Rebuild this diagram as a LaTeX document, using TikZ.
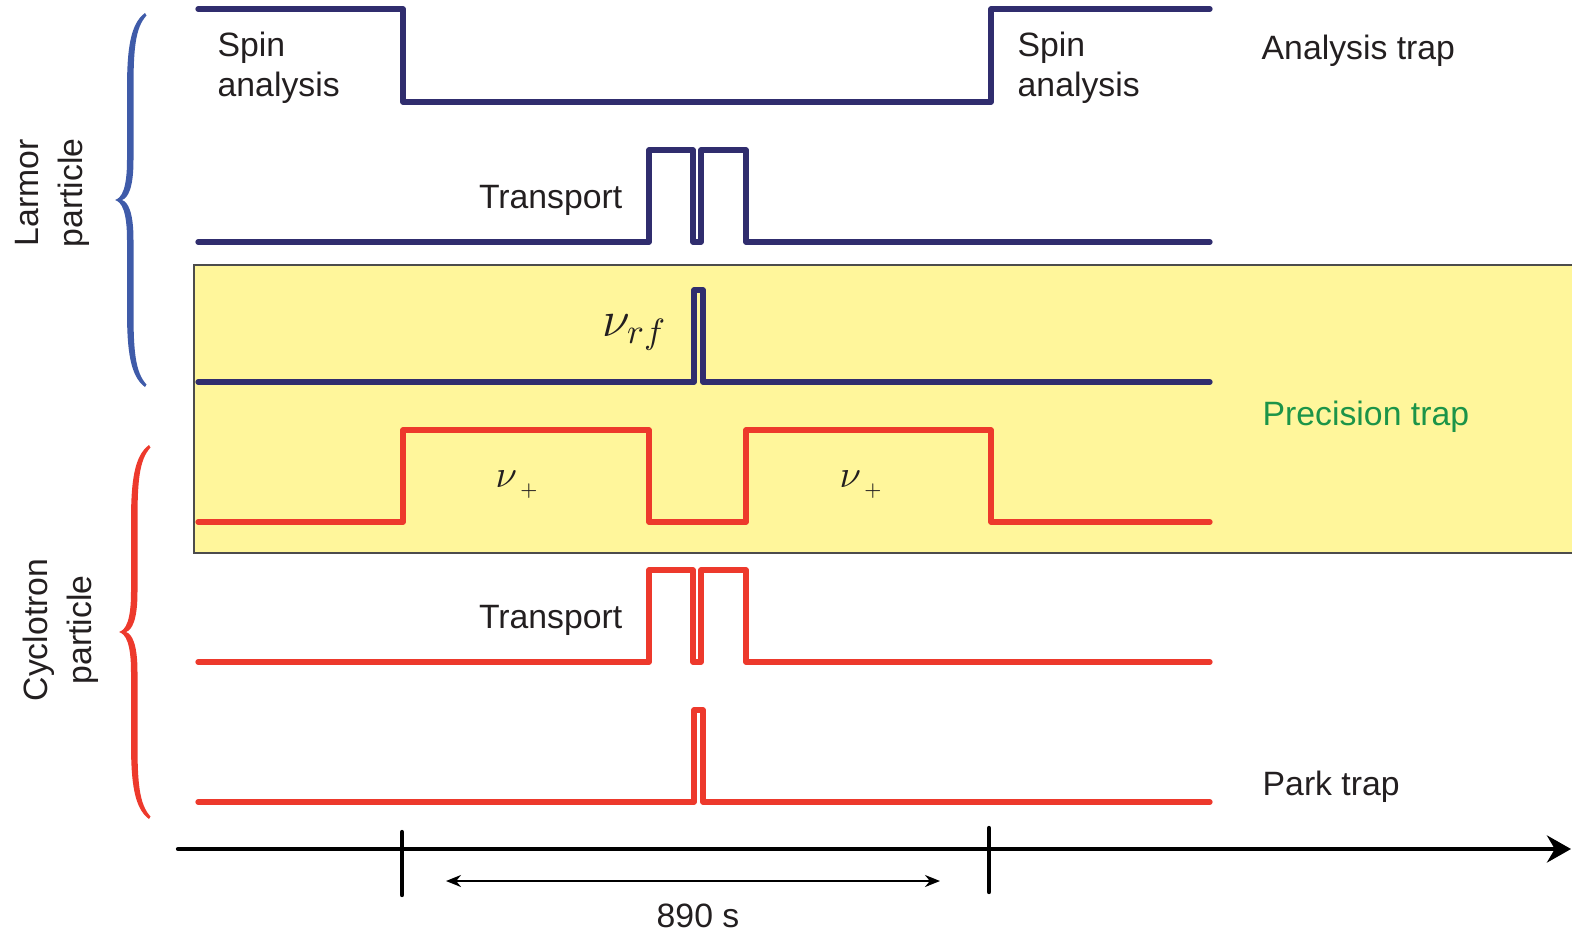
\documentclass[tikz,border=0pt]{standalone}
\usepackage{fontspec}
\setmainfont{Liberation Sans}
\usetikzlibrary{arrows.meta}

\definecolor{larmorblue}{RGB}{48,45,110}
\definecolor{cycred}{RGB}{237,57,44}
\definecolor{braceblue}{RGB}{63,91,169}
\definecolor{trapyellow}{RGB}{255,246,155}
\definecolor{trapgreen}{RGB}{28,148,72}
\definecolor{labelgray}{RGB}{35,31,32}

\begin{document}
\begin{tikzpicture}[
      x=0.01cm, y=-0.01cm,
      every node/.style={inner sep=0pt, text=labelgray, font=\fontsize{9.6}{11.4}\selectfont},
      larmor/.style={draw=larmorblue, line width=1.5pt, line join=round, line cap=round},
      cyclotron/.style={draw=cycred, line width=1.5pt, line join=round, line cap=round},
      traplabel/.style={anchor=base west},
      sidelabel/.style={rotate=90, align=center, font=\fontsize{9.6}{12.5}\selectfont},
      nuplus/.style={anchor=base west, font=\fontsize{10.5}{12}\selectfont},
      curlybrace/.pic={
        \fill[#1] (28,-187) .. controls (13,-176) and (10,-150) .. (10,-110) -- (10,-40)
          .. controls (10,-12) and (5,-2) .. (-2,0) .. controls (5,2) and (10,12) .. (10,40)
          -- (10,110) .. controls (10,150) and (13,176) .. (28,187)
          -- (29.5,184.5) .. controls (18,172) and (16.5,150) .. (16.5,110) -- (16.5,40)
          .. controls (16.5,12) and (11,2) .. (5,0) .. controls (11,-2) and (16.5,-12) .. (16.5,-40)
          -- (16.5,-110) .. controls (16.5,-150) and (18,-172) .. (29.5,-184.5) -- cycle;
      }
    ]

    \useasboundingbox (0,0) rectangle (1572,933);

    \draw[fill=trapyellow, draw=black!70, line width=0.5pt] (194,265) rectangle (1600,553);

    \draw[larmor] (198,9) -- (403,9) -- (403,102) -- (991,102) -- (991,9) -- (1210,9);
    \draw[larmor] (198,242) -- (649,242) -- (649,150) -- (693,150) -- (693,242) -- (701,242)
      -- (701,150) -- (746,150) -- (746,242) -- (1210,242);
    \draw[larmor] (198,382) -- (694,382) -- (694,290) -- (703,290) -- (703,382) -- (1210,382);

    \draw[cyclotron] (198,522) -- (403,522) -- (403,430) -- (649,430) -- (649,522) -- (746,522)
      -- (746,430) -- (991,430) -- (991,522) -- (1210,522);
    \draw[cyclotron] (198,662) -- (649,662) -- (649,570) -- (693,570) -- (693,662) -- (701,662)
      -- (701,570) -- (746,570) -- (746,662) -- (1210,662);
    \draw[cyclotron] (198,802) -- (694,802) -- (694,710) -- (703,710) -- (703,802) -- (1210,802);

    \pic at (117,200) {curlybrace=braceblue};
    \pic at (121,632) {curlybrace=cycred};

    \node[sidelabel] (larmorlbl) at (52,193) {Larmor\\particle};
    \node[sidelabel] (cyclolbl) at (61,630) {Cyclotron\\particle};

    \node[anchor=north west, align=left] (spinA) at (217,31) {Spin\\analysis};
    \node[anchor=north west, align=left] (spinB) at (1017,31) {Spin\\analysis};
    \node[anchor=base east] (transA) at (623,208) {Transport};
    \node[anchor=base east] (transB) at (623,628) {Transport};
    \node[anchor=base west, font=\fontsize{14}{16}\selectfont] (nurf) at (602,336) {$\nu_{rf}$};
    \node[nuplus] (nuplusA) at (495,487) {$\nu\kern0.8pt\raisebox{-2.4pt}{$\scriptscriptstyle+$}$};
    \node[nuplus] (nuplusB) at (839,487) {$\nu\kern0.8pt\raisebox{-2.4pt}{$\scriptscriptstyle+$}$};

    \node[traplabel] (analysistrap) at (1261,59) {Analysis trap};
    \node[traplabel, text=trapgreen] (precisiontrap) at (1262,425) {Precision trap};
    \node[traplabel] (parktrap) at (1262,795) {Park trap};

    \coordinate (tstart) at (178,849);
    \coordinate (tend) at (1571,849);
    \draw[line width=1.2pt, line cap=round, -{Stealth[length=0.24cm, width=0.27cm]}] (tstart) -- (tend);
    \draw[line width=1.25pt, line cap=round] (402,832) -- (402,895);
    \draw[line width=1.25pt, line cap=round] (989,828) -- (989,892);

    \coordinate (durA) at (446,881);
    \coordinate (durB) at (940,881);
    \draw[line width=0.6pt, {Stealth[length=0.15cm, width=0.12cm]}-{Stealth[length=0.15cm, width=0.12cm]}] (durA) -- (durB);
    \node[anchor=base] (duration) at (698,927) {890 s};

  \end{tikzpicture}
\end{document}
